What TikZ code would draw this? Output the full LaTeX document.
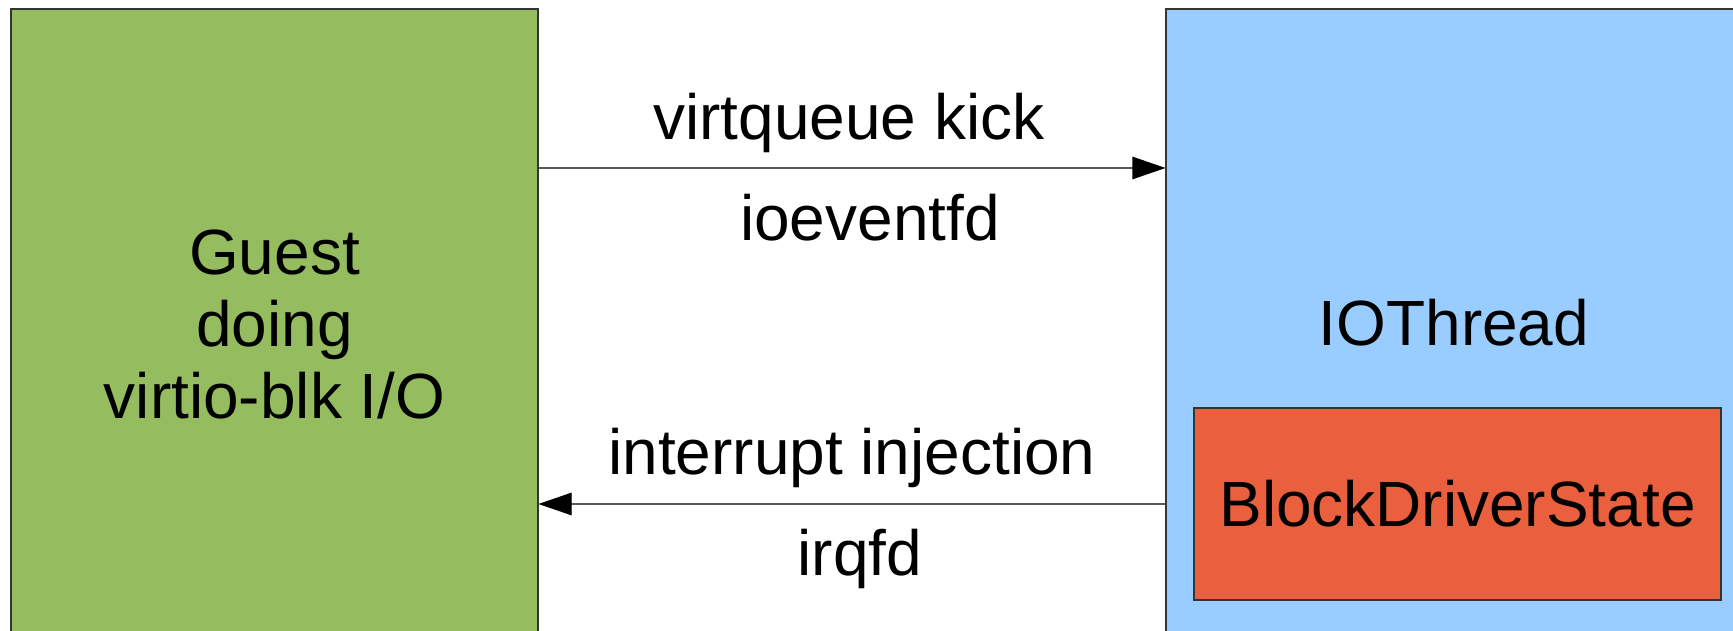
\documentclass[tikz,border=0pt]{standalone}
\usepackage{fontspec}
\setmainfont{Liberation Sans}
\usetikzlibrary{arrows.meta,positioning,calc}
\definecolor{guestcolor}{RGB}{149,189,95}
\definecolor{threadcolor}{RGB}{153,204,255}
\definecolor{bdscolor}{RGB}{234,96,62}
\definecolor{bordercolor}{RGB}{52,52,52}
\definecolor{arrowcolor}{RGB}{90,90,90}
\tikzset{
    box/.style={
        rectangle,
        text centered,
        align=center,
        draw=bordercolor,
        line width=0.6pt,
        font=\fontsize{36.4}{40.7}\selectfont
    },
    guestbox/.style={box, fill=guestcolor},
    threadbox/.style={box, fill=threadcolor},
    bdsbox/.style={box, fill=bdscolor},
    lbl/.style={font=\fontsize{36.4}{40.7}\selectfont, anchor=base},
    arrow/.style={-{Triangle[length=0.66cm, width=0.45cm, color=black]}, line width=0.6pt, color=arrowcolor}
}

\begin{document}
\begin{tikzpicture}
    \clip (0,0) rectangle (34.66,12.62);

    % Guest
    \node[guestbox, minimum width=10.54cm, minimum height=12.62cm] (guest) at (5.49,6.13) {Guest\\doing\\virtio-blk I/O};

    % IOThread with its BlockDriverState
    \node[threadbox, minimum width=11.66cm, minimum height=12.62cm] (thread) at (29.15,6.13) {};
    \node[lbl] (iothread) at (29.08,5.7) {IOThread};
    \node[bdsbox, minimum width=10.54cm, minimum height=3.84cm] (bds) at (29.15,2.54) {BlockDriverState};

    % Labels
    \node[lbl] (kick) at (16.98,9.82) {virtqueue kick};
    \node[lbl] (ioeventfd) at (17.40,7.80) {ioeventfd};
    \node[lbl] (inject) at (17.04,3.12) {interrupt injection};
    \node[lbl] (irqfd) at (17.20,1.10) {irqfd};

    % Arrows
    \draw[arrow] ([yshift=3.13cm]guest.east) -- ([yshift=3.13cm]thread.west);
    \draw[arrow] (thread.west |- bds) -- (guest.east |- bds);
\end{tikzpicture}
\end{document}
